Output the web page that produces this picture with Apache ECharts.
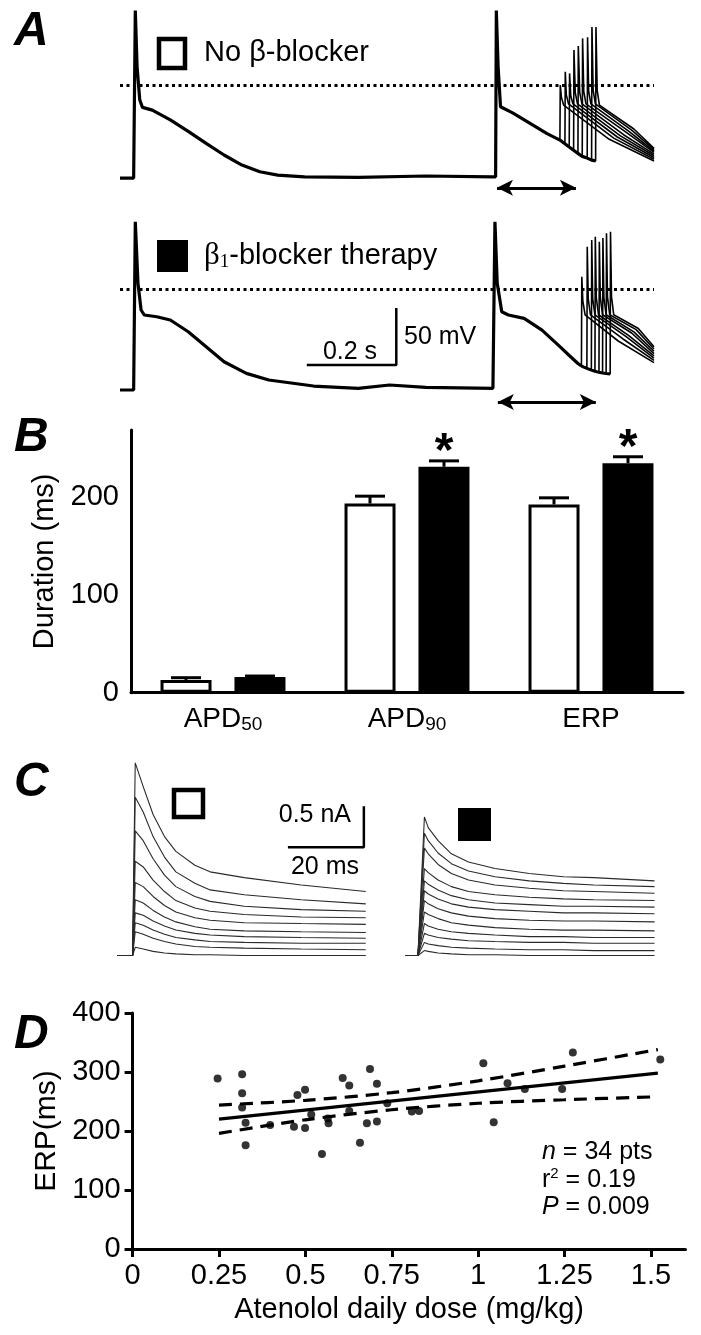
<!DOCTYPE html>
<html><head><meta charset="utf-8">
<script src="https://cdn.jsdelivr.net/npm/echarts@6/dist/echarts.min.js"></script>
<style>html,body{margin:0;padding:0;background:#fff}#c{width:701px;height:1335px}</style>
</head><body><div id="c"></div>
<script>
// ---------- Panel A: action potentials (time ms, voltage mV) ----------
const apTopBase = [[-33.5,-81],[-3,-81],[0.7,66],[4.7,16.6],[10.7,-12.6],[16.7,-19],[38.7,-21.4],[78.9,-30],[119,-40],[159,-50.6],[199,-60.8],[239,-69.6],[279,-75.5],[319,-78.4],[379,-79.9],[499,-80.4],[650,-79.2],[800,-79.9],[806,-79.9],[807.6,66],[811.6,16.6],[817,-18.5],[845,-24],[883,-33],[920,-41.8],[949.7,-47.7]];
const declTop = [[949.7,-47.7],[960.9,-51],[970.5,-53.8],[980.3,-56.6],[990,-59.4],[999.6,-62],[1010.7,-63.5],[1020.5,-65.3],[1029.5,-66]];
const s2Top = [
  [[950.5,0.6],[953,-10],[958,-17],[1060,-47],[1160,-66]],
  [[961.7,12.2],[964,-8],[969,-16],[1070,-46],[1160,-64.5]],
  [[971.3,10.8],[974,-9],[979,-16],[1078,-45],[1160,-63]],
  [[981.1,31.3],[984,-6],[989,-16],[1085,-44],[1160,-61.5]],
  [[990.8,34.8],[994,-6],[999,-16],[1092,-43],[1160,-60]],
  [[1000.4,41.5],[1003,-5],[1008,-16],[1098,-41],[1160,-58.5]],
  [[1011.5,42.4],[1014,-5],[1019,-16],[1104,-40],[1160,-57.5]],
  [[1021.3,51.5],[1024,-4],[1029,-16],[1110,-39],[1160,-56]],
  [[1030.3,51.5],[1033,-4],[1038,-17],[1115,-38],[1160,-55]]
];
const apBotBase = [[-33.5,-88],[-3,-88],[0.7,59.6],[6.7,5.6],[13.6,-17.8],[20.7,-22.2],[48.7,-23.7],[78.9,-26.6],[119,-36.9],[159,-50],[199,-63.2],[249,-73.4],[299,-79.2],[399,-84.5],[499,-86.5],[569,-83.6],[650,-85.6],[800,-86.5],[803,-86.5],[804.5,59.6],[809.6,5.6],[819.7,-19.3],[834.6,-22.2],[869.7,-25.1],[909.7,-35.4],[949.7,-50],[970,-57.5],[990,-64.7],[997.8,-67]];
const declBot = [[997.8,-67],[1010,-69],[1020,-70.5],[1028,-71.5],[1037,-72.5],[1045,-73],[1053,-73.5],[1062,-74]];
const s2Bot = [
  [[998.6,11.4],[1001,-10],[1006,-22],[1080,-45],[1160,-64]],
  [[1010.8,37.7],[1013,-8],[1018,-22],[1090,-43],[1160,-62]],
  [[1020.8,43.6],[1023,-8],[1028,-22],[1097,-41],[1160,-60]],
  [[1028.8,46.5],[1031,-7],[1036,-22],[1103,-40],[1160,-58]],
  [[1037.8,42.1],[1040,-7],[1045,-22],[1110,-38],[1160,-56]],
  [[1045.8,45.3],[1048,-7],[1053,-22],[1115,-37],[1160,-54]],
  [[1053.8,49.5],[1056,-6],[1061,-22],[1120,-35],[1160,-52]],
  [[1062.8,50.9],[1065,-6],[1070,-22],[1125,-34],[1160,-50]]
];
const erpArrowTop = [809, 985.5, -89.6];
const erpArrowBot = [811, 1030, -98.5];
const scaleBarA = [[384,-66],[584,-66],[584,-16]];

// ---------- Panel B: durations (ms) ----------
const categoriesB = ['APD50','APD90','ERP'];
const noBlocker = [13, 193, 192];
const noBlockerErr = [2.3, 7.5, 6.8];
const blocker = [16, 230.5, 234.2];
const blockerErr = [1, 6, 6.5];
const sigB = ['', '*', '*'];

// ---------- Panel C: Ito traces (time ms, current nA) ----------
const tCL = [-4.5,-0.4,0.3,2.4,5,8,11,16,20,29,44,61];
const cLeft = [
  [0,0,2.35,2.06,1.72,1.45,1.27,1.10,1.02,0.95,0.86,0.78],
  [0,0,1.93,1.75,1.45,1.20,1.02,0.88,0.80,0.74,0.68,0.63],
  [0,0,1.52,1.40,1.18,0.98,0.84,0.72,0.66,0.60,0.56,0.54],
  [0,0,1.15,1.08,0.92,0.78,0.67,0.58,0.54,0.50,0.47,0.46],
  [0,0,0.89,0.84,0.72,0.61,0.53,0.46,0.43,0.40,0.39,0.38],
  [0,0,0.68,0.64,0.55,0.47,0.41,0.35,0.32,0.30,0.29,0.28],
  [0,0,0.52,0.49,0.42,0.36,0.31,0.27,0.25,0.23,0.22,0.21],
  [0,0,0.40,0.37,0.31,0.26,0.22,0.19,0.17,0.16,0.15,0.15],
  [0,0,0.29,0.26,0.21,0.17,0.14,0.11,0.10,0.09,0.08,0.07],
  [0,0,0.10,0.08,0.05,0.03,0.02,0.01,0.01,0.0,0.0,0.0]
];
const tCR = [-3.5,-0.3,1.4,2.4,5,8.5,13,20,29,38,46,62];
const cRight = [
  [0,0,1.69,1.56,1.40,1.24,1.14,1.06,1.00,0.96,0.95,0.91],
  [0,0,1.49,1.40,1.25,1.12,1.03,0.96,0.91,0.88,0.86,0.84],
  [0,0,1.31,1.24,1.11,1.00,0.92,0.86,0.82,0.79,0.78,0.76],
  [0,0,1.06,1.01,0.92,0.84,0.78,0.74,0.71,0.69,0.68,0.67],
  [0,0,0.91,0.87,0.80,0.73,0.68,0.64,0.62,0.60,0.60,0.59],
  [0,0,0.79,0.75,0.69,0.63,0.59,0.56,0.54,0.52,0.52,0.51],
  [0,0,0.67,0.63,0.57,0.52,0.48,0.45,0.43,0.42,0.42,0.41],
  [0,0,0.53,0.50,0.45,0.40,0.37,0.34,0.32,0.31,0.31,0.30],
  [0,0,0.39,0.36,0.32,0.29,0.27,0.25,0.23,0.23,0.22,0.22],
  [0,0,0.27,0.25,0.22,0.20,0.18,0.17,0.16,0.16,0.15,0.15],
  [0,0,0.16,0.14,0.12,0.10,0.09,0.08,0.07,0.07,0.06,0.06],
  [0,0,0.06,0.05,0.03,0.02,0.01,0.01,0.0,0.0,0.0,0.0]
];
const scaleBarC = [[40.5,1.32],[60.5,1.32],[60.5,1.82]];

// ---------- Panel D: ERP vs atenolol dose ----------
const doseX = [0.246,0.317,0.317,0.317,0.327,0.327,0.398,0.467,0.477,0.499,0.499,0.517,0.548,0.565,0.567,0.608,0.627,0.627,0.658,0.678,0.687,0.707,0.707,0.737,0.808,0.829,1.015,1.045,1.085,1.135,1.243,1.274,1.527];
const erpY  = [289,296,264,240,214,176,210,207,261,270,205,228,161,221,213,290,277,234,180,213,305,280,216,247,233,234,315,215,281,271,271,333,321];
const fitX = [0.25, 1.52];
const fitY = [220, 298];
const bandX = [0.25,0.5,0.75,1.0,1.25,1.52];
const upperY = [244,252,265,285,310,338];
const lowerY = [196,219,236,247,253,258];
const xTicksD = [0,0.25,0.5,0.75,1,1.25,1.5];
const yTicksB = [0,50,100,150,200,250];
const yLabelsB = [0,100,200];

// ---------------------------------------------------------------
const FONT = '"Liberation Sans", Arial, Helvetica, sans-serif';
const zip = (xs, ys) => xs.map((x, i) => [x, ys[i]]);
const series = [];

function lineS(xi, data, width, extra) {
  return Object.assign({type:'line', xAxisIndex:xi, yAxisIndex:xi, data, symbol:'none', silent:true,
    lineStyle:{color:'#000', width}, z:3}, extra || {});
}
// Panel A top
series.push(lineS(0, apTopBase, 3.2, {
  markLine:{silent:true, symbol:'none', label:{show:false}, lineStyle:{color:'#000', type:[3,3.5], width:3}, data:[{yAxis:0}]}
}));
s2Top.forEach(s => {
  const ts = s[0][0];
  series.push(lineS(0, declTop.filter(p => p[0] < ts).concat(s), 1.6));
});
series.push(lineS(0, declTop, 3.2, {
  markLine:{silent:true, symbol:['arrow','arrow'], symbolSize:[12,16], label:{show:false}, lineStyle:{color:'#000', type:'solid', width:3},
    data:[[{coord:[erpArrowTop[0], erpArrowTop[2]]},{coord:[erpArrowTop[1], erpArrowTop[2]]}]]}
}));
// Panel A bottom
series.push(lineS(1, apBotBase, 3.2, {
  markLine:{silent:true, symbol:'none', label:{show:false}, lineStyle:{color:'#000', type:[3,3.5], width:3}, data:[{yAxis:0}]}
}));
s2Bot.forEach(s => {
  const ts = s[0][0];
  series.push(lineS(1, declBot.filter(p => p[0] < ts).concat(s), 1.6));
});
series.push(lineS(1, declBot, 3, {
  markLine:{silent:true, symbol:['arrow','arrow'], symbolSize:[12,16], label:{show:false}, lineStyle:{color:'#000', type:'solid', width:3},
    data:[[{coord:[erpArrowBot[0], erpArrowBot[2]]},{coord:[erpArrowBot[1], erpArrowBot[2]]}]]}
}));
series.push(lineS(1, scaleBarA, 2.5));

// Panel B bars
series.push({type:'bar', xAxisIndex:2, yAxisIndex:2, data:noBlocker, barWidth:51, barGap:'45%', silent:true,
  itemStyle:{color:'#fff', borderColor:'#000', borderWidth:3}});
series.push({type:'bar', xAxisIndex:2, yAxisIndex:2, data:blocker, barWidth:51, barGap:'45%', silent:true,
  itemStyle:{color:'#000', borderColor:'#000', borderWidth:3}});
const errData = [];
noBlocker.forEach((v,i) => errData.push([i, v, noBlockerErr[i], -1, '']));
blocker.forEach((v,i) => errData.push([i, v, blockerErr[i], 1, sigB[i]]));
series.push({type:'custom', xAxisIndex:2, yAxisIndex:2, data:errData, silent:true, z:5,
  renderItem:(params, api) => {
    const i = api.value(0), v = api.value(1), e = api.value(2), side = api.value(3);
    const d = errData[params.dataIndex];
    const b = api.coord([i, v]);
    const t = api.coord([i, v + e]);
    const x = b[0] + side * 37;
    const children = [
      {type:'line', shape:{x1:x, y1:b[1], x2:x, y2:t[1]}, style:{stroke:'#000', lineWidth:3}},
      {type:'line', shape:{x1:x-15, y1:t[1], x2:x+15, y2:t[1]}, style:{stroke:'#000', lineWidth:3}}
    ];
    if (d[4]) children.push({type:'text', x:x, y:t[1]-8, style:{text:d[4], fill:'#000',
      font:'bold 48px ' + FONT, align:'center', verticalAlign:'middle'}});
    return {type:'group', children};
  }});

// Panel C
const cStyle = {lineStyle:{color:'#2a2a2a', width:1.1}};
cLeft.forEach(v => series.push(lineS(3, zip(tCL, v), 1, cStyle)));
cRight.forEach(v => series.push(lineS(4, zip(tCR, v), 1, cStyle)));
series.push(lineS(3, scaleBarC, 2.5));

// Panel D
series.push({type:'scatter', xAxisIndex:5, yAxisIndex:5, data:zip(doseX, erpY), symbolSize:8, silent:true,
  itemStyle:{color:'#000'}, z:4});
series.push(lineS(5, zip(fitX, fitY), 3.2));
series.push(lineS(5, zip(bandX, upperY), 3.2, {smooth:0.3, lineStyle:{color:'#000', width:3.2, type:[13,8]}}));
series.push(lineS(5, zip(bandX, lowerY), 3.2, {smooth:0.3, lineStyle:{color:'#000', width:3.2, type:[13,8]}}));

const option = {
  animation:false,
  backgroundColor:'#fff',
  grid:[
    {left:120, top:5.9, width:534, height:193.8},
    {left:120, top:215.6, width:534, height:193.8},
    {left:131, top:430, width:552, height:262.7},
    {left:117, top:750.5, width:248, height:217.3},
    {left:405.8, top:750.5, width:248, height:217.3},
    {left:132.6, top:1013, width:552.9, height:236}
  ],
  xAxis:[
    {type:'value', gridIndex:0, min:-33.5, max:1160, show:false},
    {type:'value', gridIndex:1, min:-33.5, max:1160, show:false},
    {type:'category', gridIndex:2, data:categoriesB,
      axisLine:{lineStyle:{color:'#000', width:3}}, axisTick:{show:false},
      axisLabel:{margin:12, color:'#000', fontFamily:FONT,
        formatter:v => v === 'ERP' ? '{a|ERP}' : '{a|' + v.slice(0,3) + '}{s|' + v.slice(3) + '}',
        rich:{a:{fontSize:28, fontFamily:FONT, color:'#000', lineHeight:30},
              s:{fontSize:19, fontFamily:FONT, color:'#000', verticalAlign:'bottom', lineHeight:24}}}},
    {type:'value', gridIndex:3, min:-4.5, max:60.8, show:false},
    {type:'value', gridIndex:4, min:-3.5, max:61.8, show:false},
    {type:'value', gridIndex:5, min:0, max:1.6,
      name:'Atenolol daily dose (mg/kg)', nameLocation:'middle', nameGap:46,
      nameTextStyle:{fontSize:29, fontFamily:FONT, color:'#000'},
      axisLine:{lineStyle:{color:'#000', width:3}},
      axisTick:{customValues:xTicksD, length:8, lineStyle:{color:'#000', width:3}},
      axisLabel:{customValues:xTicksD, margin:12, fontSize:29, fontFamily:FONT, color:'#000'},
      splitLine:{show:false}}
  ],
  yAxis:[
    {type:'value', gridIndex:0, min:-100, max:70, show:false},
    {type:'value', gridIndex:1, min:-105, max:65, show:false},
    {type:'value', gridIndex:2, min:0, max:268,
      name:'Duration (ms)', nameLocation:'middle', nameGap:70, nameRotate:90,
      nameTextStyle:{fontSize:29, fontFamily:FONT, color:'#000'},
      axisLine:{show:true, lineStyle:{color:'#000', width:3}},
      axisTick:{customValues:yTicksB, length:7, lineStyle:{color:'#000', width:3}},
      axisLabel:{customValues:yLabelsB, margin:12, fontSize:29, fontFamily:FONT, color:'#000'},
      splitLine:{show:false}},
    {type:'value', gridIndex:3, min:-0.15, max:2.5, show:false},
    {type:'value', gridIndex:4, min:-0.15, max:2.5, show:false},
    {type:'value', gridIndex:5, min:0, max:400, interval:100,
      name:'ERP(ms)', nameLocation:'middle', nameGap:70, nameRotate:90,
      nameTextStyle:{fontSize:30, fontFamily:FONT, color:'#000'},
      axisLine:{show:true, lineStyle:{color:'#000', width:3}},
      axisTick:{length:8, lineStyle:{color:'#000', width:3}},
      axisLabel:{margin:12, fontSize:29, fontFamily:FONT, color:'#000'},
      splitLine:{show:false}}
  ],
  series,
  graphic:[
    {type:'text', x:14, y:32, style:{text:'A', font:'italic bold 48px ' + FONT, fill:'#000', verticalAlign:'middle'}},
    {type:'text', x:14, y:438, style:{text:'B', font:'italic bold 48px ' + FONT, fill:'#000', verticalAlign:'middle'}},
    {type:'text', x:14, y:783, style:{text:'C', font:'italic bold 48px ' + FONT, fill:'#000', verticalAlign:'middle'}},
    {type:'text', x:14, y:1035, style:{text:'D', font:'italic bold 48px ' + FONT, fill:'#000', verticalAlign:'middle'}},
    {type:'rect', shape:{x:159, y:39, width:26, height:29}, style:{fill:'#fff', stroke:'#000', lineWidth:4.5}},
    {type:'text', x:204, y:53, style:{text:'No β-blocker', font:'29px ' + FONT, fill:'#000', verticalAlign:'middle'}},
    {type:'rect', shape:{x:157, y:240, width:31, height:32}, style:{fill:'#000'}},
    {type:'text', x:204, y:256, style:{text:'{b|β}{s|1}{t|-blocker therapy}', verticalAlign:'middle', fill:'#000',
      rich:{b:{fontSize:31, fontFamily:'"Liberation Serif", serif', fill:'#000'},
            s:{fontSize:19, fontFamily:'"Liberation Serif", serif', fill:'#000', verticalAlign:'bottom'},
            t:{fontSize:29, fontFamily:FONT, fill:'#000'}}}},
    {type:'text', x:350, y:352, style:{text:'0.2 s', font:'25px ' + FONT, fill:'#000', align:'center', verticalAlign:'middle'}},
    {type:'text', x:404, y:337, style:{text:'50 mV', font:'25px ' + FONT, fill:'#000', verticalAlign:'middle'}},
    {type:'rect', shape:{x:174, y:790, width:29, height:27}, style:{fill:'#fff', stroke:'#000', lineWidth:4.5}},
    {type:'rect', shape:{x:458, y:808, width:33, height:33}, style:{fill:'#000'}},
    {type:'text', x:351, y:815, style:{text:'0.5 nA', font:'25px ' + FONT, fill:'#000', align:'right', verticalAlign:'middle'}},
    {type:'text', x:325, y:867, style:{text:'20 ms', font:'25px ' + FONT, fill:'#000', align:'center', verticalAlign:'middle'}},
    {type:'text', x:542, y:1152, style:{text:'{i|n}{t| = 34 pts}', verticalAlign:'middle', fill:'#000',
      rich:{i:{fontSize:25, fontFamily:FONT, fontStyle:'italic', fill:'#000'}, t:{fontSize:25, fontFamily:FONT, fill:'#000'}}}},
    {type:'text', x:542, y:1180, style:{text:'{t|r}{p|2}{t| = 0.19}', verticalAlign:'middle', fill:'#000',
      rich:{t:{fontSize:25, fontFamily:FONT, fill:'#000', lineHeight:28}, p:{fontSize:15, fontFamily:FONT, fill:'#000', verticalAlign:'top', lineHeight:28}}}},
    {type:'text', x:542, y:1207, style:{text:'{i|P}{t| = 0.009}', verticalAlign:'middle', fill:'#000',
      rich:{i:{fontSize:25, fontFamily:FONT, fontStyle:'italic', fill:'#000'}, t:{fontSize:25, fontFamily:FONT, fill:'#000'}}}}
  ]
};
const chart = echarts.init(document.getElementById('c'));
chart.setOption(option);
</script></body></html>
